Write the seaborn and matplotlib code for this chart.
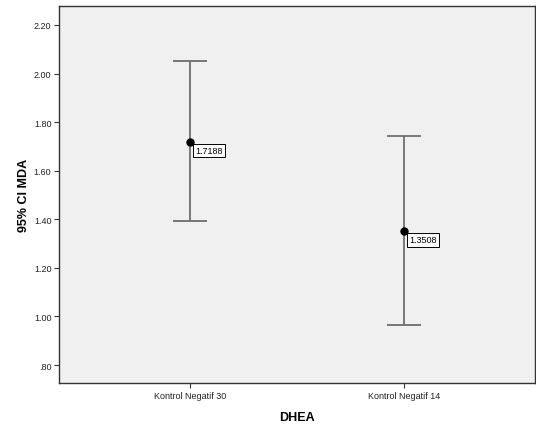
import matplotlib
matplotlib.use("Agg")
import matplotlib.pyplot as plt
from matplotlib.ticker import FuncFormatter
import seaborn as sns
import pandas as pd

groups = ["Kontrol Negatif 30", "Kontrol Negatif 14"]
means = [1.7188, 1.3508]
ci_low = [1.392, 0.963]
ci_high = [2.052, 1.741]
y_ticks = [0.80, 1.00, 1.20, 1.40, 1.60, 1.80, 2.00, 2.20]

sns.set_theme(style="white")
plt.rcParams["font.family"] = ["Liberation Sans", "DejaVu Sans"]

df = pd.DataFrame({"DHEA": groups, "MDA": means})

fig = plt.figure(figsize=(5.36, 4.27), dpi=100)
ax = fig.add_axes([59 / 536, 1 - 384 / 427, 476 / 536, 377 / 427])
ax.set_facecolor("#f0f0f0")

pos = list(range(len(groups)))
err = [[m - lo for m, lo in zip(means, ci_low)],
       [hi - m for m, hi in zip(means, ci_high)]]
ax.errorbar(pos, means, yerr=err, fmt="none", ecolor="#6e6e6e",
            elinewidth=1.3, capsize=12, capthick=1.3, zorder=2)

sns.pointplot(data=df, x="DHEA", y="MDA", errorbar=None, linestyle="none",
              color="black", markers="o", markersize=4, ax=ax, zorder=3)

for x, m in zip(pos, means):
    ax.annotate(f"{m:.4f}", xy=(x, m), xytext=(4, -3), textcoords="offset points",
                ha="left", va="top", fontsize=6.5, color="black",
                bbox=dict(boxstyle="square,pad=0.25", fc="white", ec="black", lw=0.7),
                zorder=4)

ax.set_xlim(-0.612, 1.612)
ax.set_ylim(0.726, 2.278)
ax.set_yticks(y_ticks)
ax.yaxis.set_major_formatter(FuncFormatter(
    lambda v, _: f"{v:.2f}".lstrip("0") if v < 1 else f"{v:.2f}"))
ax.set_xticks(pos)
ax.set_xticklabels(groups)

ax.tick_params(axis="both", which="major", direction="out", length=3.5,
               width=0.8, color="#333333", labelsize=6.5, labelcolor="#222222",
               pad=2, left=True, bottom=True)
for s in ax.spines.values():
    s.set_color("#333333")
    s.set_linewidth(1.0)

ax.set_xlabel("DHEA", fontsize=9, fontweight="bold", labelpad=8, color="black")
ax.set_ylabel("95% CI MDA", fontsize=9, fontweight="bold", labelpad=3, color="black")

fig.savefig("out.png", dpi=100, facecolor="white")
